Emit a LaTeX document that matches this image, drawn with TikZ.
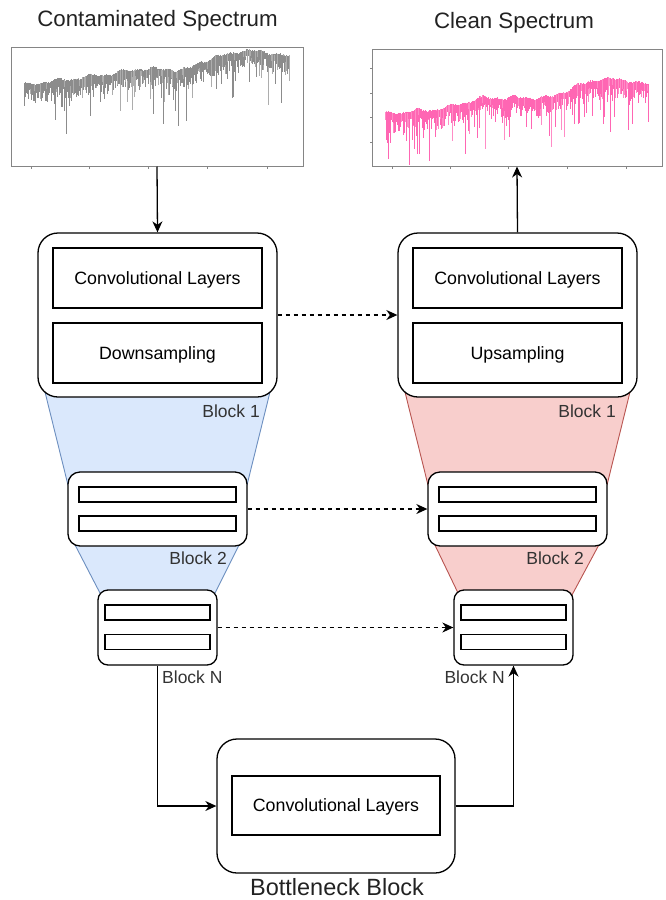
\documentclass[tikz,border=0pt]{standalone}
\usepackage{fontspec}
\setmainfont{Liberation Sans}
\usetikzlibrary{arrows.meta}

\definecolor{downfill}{HTML}{DAE8FC}
\definecolor{downline}{HTML}{6C8EBF}
\definecolor{upfill}{HTML}{F8CECC}
\definecolor{upline}{HTML}{B85450}
\definecolor{framegray}{HTML}{858585}
\definecolor{specgray}{HTML}{8C8C8C}
\definecolor{specgraylight}{HTML}{ADADAD}
\definecolor{specpink}{HTML}{FF66B3}
\definecolor{specpinklight}{HTML}{FF8CC6}
\definecolor{labeltext}{HTML}{333333}
\definecolor{titletext}{HTML}{222222}

% A synthetic absorption spectrum: #1 = continuum segments x0/y0/x1/y1, #2 = colour
\newcommand\drawspectrum[2]{%
  \foreach \xa/\ya/\xb/\yb in {#1} {
    \pgfmathtruncatemacro\nn{(\xb-\xa)/0.5}
    \foreach \i in {0,...,\nn} {
      \pgfmathsetmacro\xx{\xa+(\xb-\xa)*\i/\nn}
      \pgfmathsetmacro\cy{\ya+(\yb-\ya)*\i/\nn+1.3*sin(\xx*11)+0.9*sin(\xx*23)}
      \pgfmathsetmacro\dd{5+14*rnd^2+(rnd>0.86)*(6+36*rnd^2)}
      \pgfmathsetmacro\pick{rnd}
      \ifdim\pick pt>0.8pt \def\lc{#2light}\else\def\lc{#2}\fi
      \draw[draw=\lc, line width=0.9pt] (\xx,\cy-2*rnd) -- (\xx,\cy+\dd);
    }
  }%
}

\tikzset{
  blockbox/.style={draw, line width=1.3pt, fill=white, inner sep=0pt},
  innerbox/.style={draw, line width=1.3pt, fill=white, inner sep=0pt,
    font=\fontsize{17.8}{21}\selectfont, text=black,
    text height=12.7pt, text depth=0pt},
  plotframe/.style={draw=framegray, line width=1pt, fill=white, inner sep=0pt},
  titletxt/.style={font=\fontsize{22.3}{26}\selectfont, text=titletext, inner sep=0pt},
  blocklabel/.style={font=\fontsize{17.5}{21}\selectfont, text=labeltext, inner sep=0pt},
  flow/.style={line width=1.3pt, -{Stealth[length=11pt,width=10pt,inset=3.5pt]}},
  skip/.style={line width=1.2pt, dash pattern=on 4pt off 4pt,
    -{Stealth[length=11pt,width=10pt,inset=3.5pt]}},
  downtrap/.style={fill=downfill, draw=downline, line width=0.9pt},
  uptrap/.style={fill=upfill, draw=upline, line width=0.9pt},
  tick/.style={draw=framegray, line width=0.8pt}
}

\begin{document}
\begin{tikzpicture}[x=1pt, y=-1pt]
\useasboundingbox (0,0) rectangle (666,900);

% ---------- input and output spectra ----------
\node[titletxt, anchor=base] (tin) at (157.5,26) {Contaminated Spectrum};
\node[titletxt, anchor=base] (tout) at (514,28) {Clean Spectrum};

\node[plotframe, minimum width=292pt, minimum height=119pt] (specin) at (157,106.5) {};
\node[plotframe, minimum width=290pt, minimum height=117pt] (specout) at (517,107.5) {};

\foreach \tx in {31,89,148,207,267} \draw[tick] (\tx,166) -- (\tx,168.5);
\foreach \tx in {392,450,508,567,626} \draw[tick] (\tx,166) -- (\tx,168.5);
\foreach \ty in {68,93,117,142} \draw[tick] (372,\ty) -- (369.5,\ty);

\pgfmathsetseed{11}
\drawspectrum{24/86/110/75, 110/75/140/70, 140/70/187/71, 187/71/200/63,
  200/63/240/52, 240/52/267/53, 267/53/289/58}{specgray}
\pgfmathsetseed{29}
\drawspectrum{385/115/440/110, 440/110/483/99, 483/99/550/99, 550/99/573/88,
  573/88/600/80, 600/80/633/82, 633/82/648/86}{specpink}

% ---------- funnels behind the encoder and decoder ----------
\draw[downtrap] (44.5,390) -- (270.5,390) -- (247,485) -- (68,485) -- cycle;
\draw[downtrap] (72.5,540) -- (241.5,540) -- (214,595) -- (101,595) -- cycle;
\draw[uptrap] (404.5,390) -- (630.5,390) -- (607,485) -- (428,485) -- cycle;
\draw[uptrap] (432.5,540) -- (601.5,540) -- (572,595) -- (459,595) -- cycle;

% ---------- encoder ----------
\node[blockbox, rounded corners=20pt, minimum width=239pt, minimum height=164pt] (e1) at (157.5,315) {};
\node[innerbox, minimum width=209pt, minimum height=60pt] (e1conv) at (157.5,278) {Convolutional Layers};
\node[innerbox, minimum width=209pt, minimum height=60pt] (e1down) at (157.5,353) {Downsampling};
\node[blocklabel, anchor=base east] (e1lab) at (260,417) {Block 1};

\node[blockbox, rounded corners=12pt, minimum width=179pt, minimum height=74pt] (e2) at (157.5,509) {};
\node[innerbox, minimum width=157pt, minimum height=15pt] (e2a) at (157.5,494.5) {};
\node[innerbox, minimum width=157pt, minimum height=15pt] (e2b) at (157.5,523.5) {};
\node[blocklabel, anchor=base east] (e2lab) at (227,564) {Block 2};

\node[blockbox, rounded corners=10pt, minimum width=119pt, minimum height=75pt] (en) at (157.5,627.5) {};
\node[innerbox, minimum width=105pt, minimum height=15pt] (ena) at (157.5,612.5) {};
\node[innerbox, minimum width=105pt, minimum height=15pt] (enb) at (157.5,642) {};
\node[blocklabel, anchor=base west] (enlab) at (162,683) {Block N};

% ---------- decoder ----------
\node[blockbox, rounded corners=20pt, minimum width=239pt, minimum height=164pt] (d1) at (517.5,315) {};
\node[innerbox, minimum width=209pt, minimum height=60pt] (d1conv) at (517.5,278) {Convolutional Layers};
\node[innerbox, minimum width=209pt, minimum height=60pt] (d1up) at (517.5,353) {Upsampling};
\node[blocklabel, anchor=base east] (d1lab) at (616,417) {Block 1};

\node[blockbox, rounded corners=12pt, minimum width=179pt, minimum height=74pt] (d2) at (517.5,509) {};
\node[innerbox, minimum width=157pt, minimum height=15pt] (d2a) at (517.5,494.5) {};
\node[innerbox, minimum width=157pt, minimum height=15pt] (d2b) at (517.5,523.5) {};
\node[blocklabel, anchor=base east] (d2lab) at (584,564) {Block 2};

\node[blockbox, rounded corners=10pt, minimum width=119pt, minimum height=75pt] (dn) at (513.5,627.5) {};
\node[innerbox, minimum width=105pt, minimum height=15pt] (dna) at (513.5,612.5) {};
\node[innerbox, minimum width=105pt, minimum height=15pt] (dnb) at (513.5,642) {};
\node[blocklabel, anchor=base east] (dnlab) at (505,683) {Block N};

% ---------- bottleneck ----------
\node[blockbox, rounded corners=20pt, minimum width=238pt, minimum height=134pt] (bn) at (336,806) {};
\node[innerbox, minimum width=208pt, minimum height=59pt] (bnconv) at (336,805.5) {Convolutional Layers};
\node[titletxt, font=\fontsize{23.5}{28}\selectfont, anchor=base] (bnlab) at (337,895.5) {Bottleneck Block};

% ---------- connectors ----------
\draw[flow] (specin.south) -- (e1.north);
\draw[flow] (d1.north) -- (specout.south);
\draw[skip] (e1.east) -- (d1.west);
\draw[skip] (e2.east) -- (d2.west);
\draw[skip] (en.east) -- (dn.west);
\draw[flow] (en.south) |- (bn.west);
\draw[flow] (bn.east) -| (dn.south);
\end{tikzpicture}
\end{document}
